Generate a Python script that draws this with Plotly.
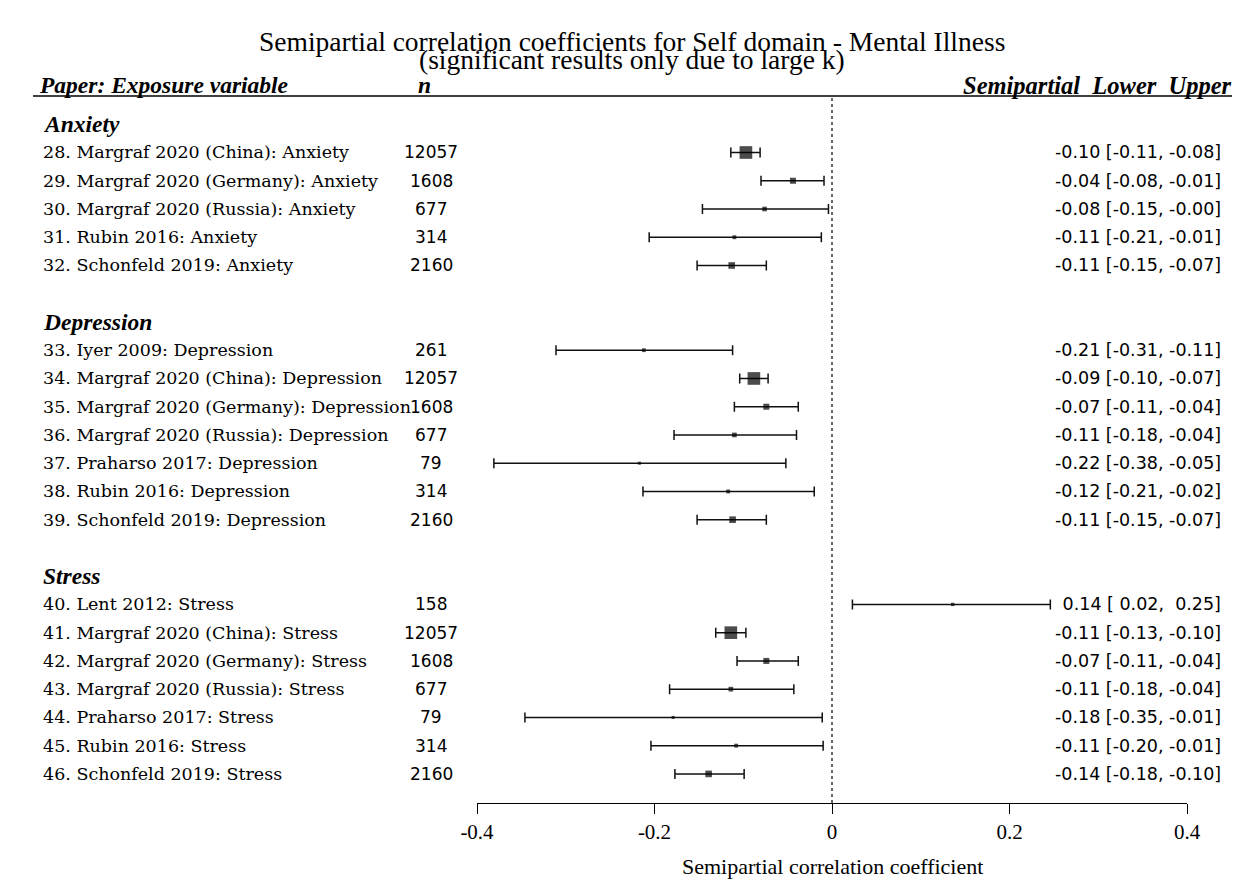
import plotly.graph_objects as go

# ---------------- data ----------------
groups = ["Anxiety", "Depression", "Stress"]
study_ids = list(range(28, 47))
papers = ["Margraf 2020 (China)", "Margraf 2020 (Germany)", "Margraf 2020 (Russia)", "Rubin 2016", "Schonfeld 2019",
          "Iyer 2009", "Margraf 2020 (China)", "Margraf 2020 (Germany)", "Margraf 2020 (Russia)", "Praharso 2017",
          "Rubin 2016", "Schonfeld 2019",
          "Lent 2012", "Margraf 2020 (China)", "Margraf 2020 (Germany)", "Margraf 2020 (Russia)", "Praharso 2017",
          "Rubin 2016", "Schonfeld 2019"]
exposures = ["Anxiety"] * 5 + ["Depression"] * 7 + ["Stress"] * 7
n_vals = [12057, 1608, 677, 314, 2160,
          261, 12057, 1608, 677, 79, 314, 2160,
          158, 12057, 1608, 677, 79, 314, 2160]
estimates = [-0.097, -0.044, -0.076, -0.110, -0.113,
             -0.212, -0.088, -0.074, -0.110, -0.217, -0.117, -0.112,
             0.136, -0.114, -0.074, -0.114, -0.179, -0.108, -0.139]
lower = [-0.114, -0.080, -0.146, -0.206, -0.152,
         -0.311, -0.104, -0.110, -0.178, -0.381, -0.213, -0.152,
         0.023, -0.131, -0.107, -0.183, -0.346, -0.204, -0.177]
upper = [-0.081, -0.009, -0.004, -0.012, -0.074,
         -0.112, -0.072, -0.038, -0.040, -0.052, -0.020, -0.074,
         0.246, -0.097, -0.038, -0.043, -0.011, -0.010, -0.099]
x_ticks = [-0.4, -0.2, 0, 0.2, 0.4]
x_ticktext = ["-0.4", "-0.2", "0", "0.2", "0.4"]

title_line1 = "Semipartial correlation coefficients for Self domain - Mental Illness"
title_line2 = "(significant results only due to large k)"
x_title = "Semipartial correlation coefficient"

# ---------------- layout helpers ----------------
OFF = 8                      # default page margin of the html body
W, H = 1252 - OFF, 893 - OFF
ML = 477 - OFF
MR = W - (1187 - OFF)
MT = 96 - OFF
MB = H - (803 - OFF)
PW = W - ML - MR
PH = H - MT - MB


def px(xp):
    """screen x (reference pixels) -> paper x"""
    return (xp - OFF - ML) / PW


def py(yp):
    """screen y (reference pixels) -> paper y"""
    return (H - MB - (yp - OFF)) / PH


# row positions (group header, studies, blank line)
rows = []
group_rows = []
r = 0
for g in groups:
    group_rows.append(r)
    r += 1
    for _ in range(exposures.count(g)):
        rows.append(r)
        r += 1
    r += 1
last_row = rows[-1]

SERIF = "DejaVu Serif"
SANS = "DejaVu Sans"
TIMES = "Liberation Serif"

fig = go.Figure()

sizes = [2.2 + (n ** 0.5) / 10.5 for n in n_vals]
fig.add_trace(go.Scatter(
    x=estimates, y=rows, mode="markers",
    marker=dict(symbol="square", size=sizes, color="black", line=dict(width=0)),
    error_x=dict(type="data", symmetric=False,
                 array=[u - e for u, e in zip(upper, estimates)],
                 arrayminus=[e - l for e, l in zip(estimates, lower)],
                 color="#111111", thickness=1.5, width=5),
    showlegend=False, hoverinfo="skip",
))

ann = []
# title
ann.append(dict(text=title_line1, x=px(632), y=py(41), xref="paper", yref="paper",
                showarrow=False, xanchor="center", yanchor="middle",
                font=dict(family=TIMES, size=27.5, color="black")))
ann.append(dict(text=title_line2, x=px(632), y=py(59), xref="paper", yref="paper",
                showarrow=False, xanchor="center", yanchor="middle",
                font=dict(family=TIMES, size=27.5, color="black")))
# headers
ann.append(dict(text="<b><i>Paper: Exposure variable</i></b>", x=px(37), y=py(85), xref="paper", yref="paper",
                showarrow=False, xanchor="left", yanchor="middle",
                font=dict(family=TIMES, size=23.5, color="black")))
ann.append(dict(text="<b><i>n</i></b>", x=px(424), y=py(85), xref="paper", yref="paper",
                showarrow=False, xanchor="center", yanchor="middle",
                font=dict(family=TIMES, size=23.5, color="black")))
ann.append(dict(text="<b><i>Semipartial\u00a0 Lower\u00a0 Upper</i></b>", x=px(1234), y=py(85),
                xref="paper", yref="paper",
                showarrow=False, xanchor="right", yanchor="middle",
                font=dict(family=TIMES, size=24.5, color="black")))
# group headers
for g, gr in zip(groups, group_rows):
    ann.append(dict(text=f"<b><i>{g}</i></b>", x=px(41), y=gr, xref="paper", yref="y",
                    showarrow=False, xanchor="left", yanchor="middle",
                    font=dict(family=TIMES, size=23.5, color="black")))
# study rows
for sid, p, e, n, est, lo, hi, rr in zip(study_ids, papers, exposures, n_vals, estimates, lower, upper, rows):
    ann.append(dict(text=f"{sid}. {p}: {e}", x=px(41), y=rr, xref="paper", yref="y",
                    showarrow=False, xanchor="left", yanchor="middle",
                    font=dict(family=SERIF, size=17.5, color="black")))
    ann.append(dict(text=f"{n}", x=px(431), y=rr, xref="paper", yref="y",
                    showarrow=False, xanchor="center", yanchor="middle",
                    font=dict(family=SANS, size=17, color="black")))
    ci = f"{est:5.2f} [{lo:5.2f}, {hi:5.2f}]".replace(" ", "\u00a0")
    ann.append(dict(text=ci, x=px(1223), y=rr, xref="paper", yref="y",
                    showarrow=False, xanchor="right", yanchor="middle",
                    font=dict(family=SANS, size=17.5, color="black")))
# axis title
ann.append(dict(text=x_title, x=0.5, y=py(866), xref="paper", yref="paper",
                showarrow=False, xanchor="center", yanchor="middle",
                font=dict(family=TIMES, size=22, color="black")))

shapes = [
    dict(type="line", xref="paper", yref="paper", x0=px(33), x1=px(1232), y0=1, y1=1,
         line=dict(color="black", width=1.5)),
    dict(type="line", xref="x", yref="paper", x0=0, x1=0, y0=0, y1=py(98),
         line=dict(color="black", width=1.2, dash="dot")),
]

fig.update_layout(
    width=W, height=H,
    margin=dict(l=ML, r=MR, t=MT, b=MB, pad=0),
    paper_bgcolor="white", plot_bgcolor="white",
    annotations=ann, shapes=shapes,
    xaxis=dict(range=[-0.4, 0.4], tickvals=x_ticks, ticktext=x_ticktext,
               showline=True, linecolor="black", linewidth=1.3,
               ticks="outside", ticklen=10, tickwidth=1.3, tickcolor="black",
               tickfont=dict(family=TIMES, size=21, color="black"),
               showgrid=False, zeroline=False, fixedrange=True),
    yaxis=dict(range=[last_row + 1.03, -1], visible=False, showgrid=False, zeroline=False, fixedrange=True),
)

fig.write_html("out.html")
